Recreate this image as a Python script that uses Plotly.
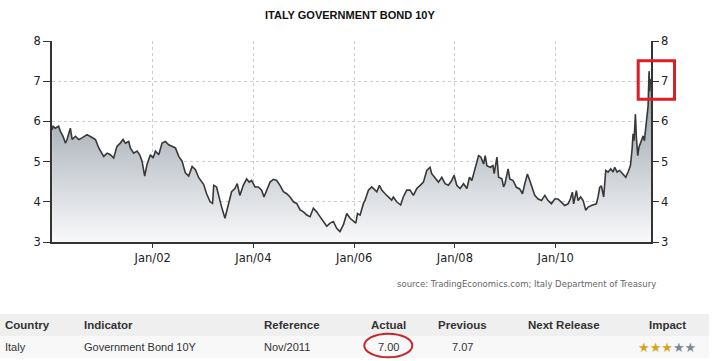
import plotly.graph_objects as go

# ---------------- data ----------------
dates = [
    "2000-01-03", "2000-01-10", "2000-01-26", "2000-02-19", "2000-03-03", "2000-03-22",
    "2000-04-08", "2000-04-20", "2000-05-14", "2000-05-27", "2000-06-20", "2000-07-14",
    "2000-08-07", "2000-09-12", "2000-10-19", "2000-11-12", "2000-12-06", "2000-12-30",
    "2001-01-11", "2001-02-05", "2001-02-28", "2001-03-24", "2001-04-17", "2001-05-11",
    "2001-05-31", "2001-06-17", "2001-07-11", "2001-07-23", "2001-08-16", "2001-09-10",
    "2001-09-29", "2001-10-16", "2001-11-04", "2001-11-21", "2001-12-15", "2002-01-04",
    "2002-01-21", "2002-02-14", "2002-03-10", "2002-04-03", "2002-04-27", "2002-05-21",
    "2002-06-15", "2002-07-09", "2002-08-02", "2002-08-26", "2002-09-19", "2002-10-14",
    "2002-11-07", "2002-12-01", "2003-01-06",
    "2003-01-27", "2003-02-21", "2003-03-11", "2003-03-20", "2003-04-09", "2003-04-21",
    "2003-05-15", "2003-06-09", "2003-07-03", "2003-07-27", "2003-08-20", "2003-09-06",
    "2003-09-25", "2003-10-20", "2003-11-13", "2003-12-02", "2003-12-19", "2004-01-13",
    "2004-02-06", "2004-03-01", "2004-03-18", "2004-04-07", "2004-05-01", "2004-05-25",
    "2004-06-18", "2004-07-12", "2004-08-06", "2004-08-30", "2004-09-23", "2004-10-17",
    "2004-11-10", "2004-12-05", "2004-12-29", "2005-01-22", "2005-02-15", "2005-03-11",
    "2005-04-04", "2005-04-28", "2005-05-23", "2005-06-16", "2005-07-10", "2005-08-03",
    "2005-08-27", "2005-09-20", "2005-10-15", "2005-11-08", "2005-12-02",
    "2005-12-26", "2006-01-13", "2006-01-25", "2006-02-13", "2006-03-09", "2006-03-21",
    "2006-04-14", "2006-05-08", "2006-06-02", "2006-06-14", "2006-07-03", "2006-07-20",
    "2006-08-13", "2006-09-06", "2006-09-30", "2006-10-12", "2006-11-05", "2006-12-04",
    "2006-12-23", "2007-01-17", "2007-02-10", "2007-03-06", "2007-03-31", "2007-04-24",
    "2007-05-18", "2007-06-11", "2007-07-05", "2007-07-17", "2007-08-10", "2007-09-04",
    "2007-09-28", "2007-10-22", "2007-11-15", "2007-12-09", "2007-12-26", "2008-01-15",
    "2008-02-08", "2008-03-04", "2008-03-28", "2008-04-16", "2008-05-03", "2008-05-28",
    "2008-06-21", "2008-07-08", "2008-07-27", "2008-08-08", "2008-08-20", "2008-09-14",
    "2008-10-03", "2008-10-12", "2008-11-01", "2008-11-13", "2008-12-07", "2008-12-19",
    "2008-12-29", "2009-01-21", "2009-02-02", "2009-02-26", "2009-03-22", "2009-04-15",
    "2009-05-05", "2009-05-22", "2009-06-10", "2009-06-27", "2009-07-21", "2009-08-02",
    "2009-08-27", "2009-09-20", "2009-10-14", "2009-11-07", "2009-12-01", "2009-12-25",
    "2010-01-18", "2010-02-11", "2010-03-07", "2010-04-01", "2010-04-17", "2010-05-02",
    "2010-05-11", "2010-05-31", "2010-06-12", "2010-07-01", "2010-07-19", "2010-08-07",
    "2010-08-24", "2010-09-17", "2010-10-23", "2010-11-04", "2010-11-16", "2010-11-28",
    "2010-12-15", "2010-12-30", "2011-01-16", "2011-02-04", "2011-02-21", "2011-03-05",
    "2011-03-22", "2011-04-10", "2011-05-05", "2011-05-24", "2011-06-10", "2011-06-27",
    "2011-07-09", "2011-07-16", "2011-07-23", "2011-08-02", "2011-08-09", "2011-08-19",
    "2011-08-28", "2011-09-15", "2011-09-27", "2011-10-06", "2011-10-21", "2011-11-02",
    "2011-11-09", "2011-11-14", "2011-11-18", "2011-11-23",
]
yields = [
    5.79, 5.88, 5.83, 5.88, 5.75, 5.63,
    5.46, 5.55, 5.83, 5.55, 5.63, 5.55,
    5.59, 5.67, 5.60, 5.55, 5.34, 5.21,
    5.13, 5.21, 5.17, 5.09, 5.38, 5.46,
    5.55, 5.46, 5.50, 5.34, 5.21, 5.26,
    5.17, 5.01, 4.64, 4.93, 5.17, 5.09,
    5.26, 5.17, 5.46, 5.50, 5.42, 5.38,
    5.34, 5.13, 5.01, 4.72, 4.64, 4.88,
    4.80, 4.60, 4.43,
    4.20, 4.00, 3.96, 4.41, 4.37, 4.20,
    3.88, 3.59, 3.92, 4.25, 4.33, 4.45,
    4.16, 4.41, 4.57, 4.49, 4.53, 4.37,
    4.37, 4.29, 4.12, 4.29, 4.49, 4.56,
    4.53, 4.41, 4.25, 4.20, 4.12, 4.00,
    3.96, 3.80, 3.75, 3.67, 3.63, 3.84,
    3.75, 3.63, 3.51, 3.39, 3.47, 3.51,
    3.34, 3.26, 3.43, 3.71, 3.59,
    3.51, 3.47, 3.71, 3.67, 3.96, 4.04,
    4.29, 4.37, 4.29, 4.25, 4.41, 4.29,
    4.20, 4.12, 4.04, 4.12, 4.00, 3.92,
    4.12, 4.29, 4.29, 4.16, 4.33, 4.41,
    4.49, 4.78, 4.86, 4.70, 4.61, 4.49,
    4.61, 4.45, 4.41, 4.53, 4.66, 4.41,
    4.33, 4.45, 4.33, 4.61, 4.53, 4.82,
    5.15, 5.11, 4.94, 5.15, 4.90, 4.86,
    4.90, 4.70, 5.11, 4.61, 4.57, 4.37,
    4.45, 4.82, 4.57, 4.53, 4.36, 4.32,
    4.20, 4.45, 4.69, 4.53, 4.28, 4.16,
    4.07, 4.03, 4.16, 4.03, 3.95, 4.07,
    4.07, 3.99, 3.91, 3.95, 4.07, 4.24,
    3.95, 4.28, 4.03, 4.12, 4.03, 3.79,
    3.87, 3.91, 3.95, 4.12, 4.36, 4.40,
    4.12, 4.78, 4.74, 4.82, 4.74, 4.86,
    4.74, 4.78, 4.69, 4.61, 4.74, 4.90,
    5.31, 5.69, 5.52, 6.18, 5.60, 5.15,
    5.36, 5.52, 5.64, 5.52, 5.93, 6.39,
    7.25, 6.75, 7.05, 7.00,
]

chart_title = "ITALY GOVERNMENT BOND 10Y"
source_text = "source: TradingEconomics.com; Italy Department of Treasury"
y_tick_values = [3, 4, 5, 6, 7, 8]
x_range = ["2000-01-02", "2011-11-23"]
table_headers = ["Country", "Indicator", "Reference", "Actual", "Previous", "Next Release", "Impact"]
table_row = ["Italy", "Government Bond 10Y", "Nov/2011", "7.00", "7.07", "", ""]
impact_filled = 3
impact_total = 5

# ---------------- layout helpers (page pixel -> paper) ----------------
W, H = 713, 361
PL, PR, PT, PB = 52, 651, 41, 242   # plot area in page pixels


def fx(px):
    return (px - PL) / (PR - PL)


def fy(py):
    return (PB - py) / (PB - PT)


fig = go.Figure()
fig.add_trace(go.Scatter(
    x=dates, y=yields, mode="lines",
    line=dict(color="#383838", width=1.6),
    fill="tozeroy",
    fillgradient=dict(type="vertical", start=3, stop=7.3,
                      colorscale=[[0, "#f9f9fa"], [0.5, "#c2c7cd"], [1, "#838d98"]]),
    hoverinfo="skip", showlegend=False,
))
# invisible trace to activate the right-hand axis
fig.add_trace(go.Scatter(
    x=[dates[-1]], y=[yields[-1]], yaxis="y2", mode="markers",
    marker=dict(opacity=0), hoverinfo="skip", showlegend=False,
))

tick_font = dict(family="DejaVu Sans", size=11.5, color="#222")
grid = dict(showgrid=True, gridcolor="#cccccc", gridwidth=1, griddash="3px,3px")

fig.update_layout(
    width=W, height=H, autosize=False,
    margin=dict(l=PL, r=W - PR, t=PT, b=H - PB, pad=0),
    paper_bgcolor="white", plot_bgcolor="white",
    xaxis=dict(type="date", range=x_range, tick0="2002-01-01", dtick="M24",
               tickformat="%b/%y", ticks="outside", ticklen=4, tickcolor="#333",
               showline=True, linecolor="#333", linewidth=1.5, zeroline=False,
               tickfont=tick_font, **grid),
    yaxis=dict(range=[3, 8], tickvals=y_tick_values, ticks="outside", ticklen=7,
               tickcolor="#333", showline=True, linecolor="#333", linewidth=1.5,
               zeroline=False, tickfont=tick_font, **grid),
    yaxis2=dict(range=[3, 8], tickvals=y_tick_values, overlaying="y", side="right",
                anchor="x", ticks="outside", ticklen=6, tickcolor="#333",
                showline=True, linecolor="#333", linewidth=1.5, showgrid=False,
                zeroline=False, tickfont=tick_font),
)

shapes = []
annotations = []

# title
annotations.append(dict(text="<b>%s</b>" % chart_title, x=fx(350), y=fy(15),
                        xref="paper", yref="paper", xanchor="center", yanchor="middle",
                        showarrow=False,
                        font=dict(family="Liberation Sans", size=11, color="#111")))
# source
annotations.append(dict(text=source_text, x=fx(658), y=fy(284), xref="paper", yref="paper",
                        xanchor="right", yanchor="middle", showarrow=False,
                        font=dict(family="DejaVu Sans", size=8.5, color="#666")))

# table backgrounds
shapes.append(dict(type="rect", xref="paper", yref="paper", x0=fx(0), x1=fx(709),
                   y0=fy(336), y1=fy(314), fillcolor="#efefef", line=dict(width=0), layer="below"))
shapes.append(dict(type="rect", xref="paper", yref="paper", x0=fx(0), x1=fx(709),
                   y0=fy(358), y1=fy(336), fillcolor="#f8f8f8", line=dict(width=0), layer="below"))

col_x = [3, 82, 262, 388, 462.5, 564, 667.5]
col_anchor = ["left", "left", "left", "center", "center", "center", "center"]
for label, cx, anc in zip(table_headers, col_x, col_anchor):
    annotations.append(dict(text="<b>%s</b>" % label, x=fx(cx), y=fy(325), xref="paper",
                            yref="paper", xanchor=anc, yanchor="middle", showarrow=False,
                            font=dict(family="Liberation Sans", size=11.5, color="#333")))
for val, cx, anc in zip(table_row, col_x, col_anchor):
    if val:
        annotations.append(dict(text=val, x=fx(cx), y=fy(347), xref="paper",
                                yref="paper", xanchor=anc, yanchor="middle", showarrow=False,
                                font=dict(family="Liberation Sans", size=11, color="#333")))
stars = ("<span style='color:#d6a41c'>" + "★" * impact_filled + "</span>"
         "<span style='color:#7d8796'>" + "★" * (impact_total - impact_filled) + "</span>")
annotations.append(dict(text=stars, x=fx(667.5), y=fy(347), xref="paper", yref="paper",
                        xanchor="center", yanchor="middle", showarrow=False,
                        font=dict(family="DejaVu Sans", size=13)))

# red highlight box and ellipse
shapes.append(dict(type="rect", xref="paper", yref="paper", x0=fx(638.2), x1=fx(674.5),
                   y0=fy(99.2), y1=fy(60.8), line=dict(color="#dd1f24", width=3)))
shapes.append(dict(type="circle", xref="paper", yref="paper", x0=fx(364.3), x1=fx(412.3),
                   y0=fy(357.3), y1=fy(333.7), line=dict(color="#c1272d", width=2)))

fig.update_layout(shapes=shapes, annotations=annotations)
fig.write_html(
    "out.html",
    config={"displayModeBar": False},
    post_script="document.body.style.margin='0px';document.body.style.overflow='hidden';",
)
